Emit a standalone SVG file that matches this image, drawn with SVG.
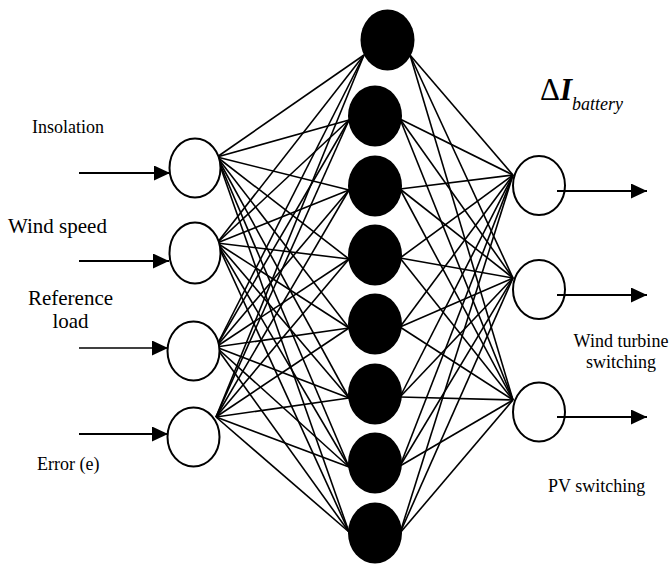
<svg xmlns="http://www.w3.org/2000/svg" width="672" height="565" viewBox="0 0 672 565">
<defs>
<marker id="ah" markerUnits="userSpaceOnUse" markerWidth="16" markerHeight="15" refX="16" refY="7.5" orient="auto">
<path d="M0,0 L16,7.5 L0,15 z" fill="#000"/>
</marker>
</defs>
<rect width="672" height="565" fill="#fff"/>
<g id="connectors" stroke="#000" stroke-width="1.6">
<line x1="217" y1="157" x2="364" y2="55"/><line x1="217" y1="157" x2="349" y2="120"/><line x1="217" y1="157" x2="349" y2="190"/><line x1="217" y1="157" x2="349" y2="259"/><line x1="217" y1="157" x2="349" y2="328"/><line x1="217" y1="157" x2="349" y2="398"/><line x1="217" y1="157" x2="349" y2="467"/><line x1="217" y1="157" x2="349" y2="532"/>
<line x1="217" y1="243" x2="364" y2="55"/><line x1="217" y1="243" x2="349" y2="120"/><line x1="217" y1="243" x2="349" y2="190"/><line x1="217" y1="243" x2="349" y2="259"/><line x1="217" y1="243" x2="349" y2="328"/><line x1="217" y1="243" x2="349" y2="398"/><line x1="217" y1="243" x2="349" y2="467"/><line x1="217" y1="243" x2="349" y2="532"/>
<line x1="216" y1="347" x2="364" y2="55"/><line x1="216" y1="347" x2="349" y2="120"/><line x1="216" y1="347" x2="349" y2="190"/><line x1="216" y1="347" x2="349" y2="259"/><line x1="216" y1="347" x2="349" y2="328"/><line x1="216" y1="347" x2="349" y2="398"/><line x1="216" y1="347" x2="349" y2="467"/><line x1="216" y1="347" x2="349" y2="532"/>
<line x1="216" y1="417" x2="364" y2="55"/><line x1="216" y1="417" x2="349" y2="120"/><line x1="216" y1="417" x2="349" y2="190"/><line x1="216" y1="417" x2="349" y2="259"/><line x1="216" y1="417" x2="349" y2="328"/><line x1="216" y1="417" x2="349" y2="398"/><line x1="216" y1="417" x2="349" y2="467"/><line x1="216" y1="417" x2="349" y2="532"/>
<line x1="410" y1="55" x2="513" y2="175"/><line x1="410" y1="55" x2="513" y2="278"/><line x1="410" y1="55" x2="513" y2="400"/>
<line x1="400" y1="119" x2="513" y2="175"/><line x1="400" y1="119" x2="513" y2="278"/><line x1="400" y1="119" x2="513" y2="400"/>
<line x1="400" y1="189" x2="513" y2="175"/><line x1="400" y1="189" x2="513" y2="278"/><line x1="400" y1="189" x2="513" y2="400"/>
<line x1="400" y1="258" x2="513" y2="175"/><line x1="400" y1="258" x2="513" y2="278"/><line x1="400" y1="258" x2="513" y2="400"/>
<line x1="400" y1="327" x2="513" y2="175"/><line x1="400" y1="327" x2="513" y2="278"/><line x1="400" y1="327" x2="513" y2="400"/>
<line x1="400" y1="397" x2="513" y2="175"/><line x1="400" y1="397" x2="513" y2="278"/><line x1="400" y1="397" x2="513" y2="400"/>
<line x1="400" y1="466" x2="513" y2="175"/><line x1="400" y1="466" x2="513" y2="278"/><line x1="400" y1="466" x2="513" y2="400"/>
<line x1="400" y1="533" x2="513" y2="175"/><line x1="400" y1="533" x2="513" y2="278"/><line x1="400" y1="533" x2="513" y2="400"/>
</g>
<g font-family="Liberation Serif" fill="#000">
<g id="in1"><text x="32" y="133" font-size="18" font-family="Liberation Serif">Insolation</text><line stroke="#000" stroke-width="2" x1="79" y1="173" x2="170" y2="173" marker-end="url(#ah)"/><ellipse fill="#fff" stroke="#000" stroke-width="2" cx="195" cy="168" rx="25.5" ry="29.5"/></g>
<g id="in2"><text x="8" y="233" font-size="21" font-family="Liberation Serif">Wind speed</text><line stroke="#000" stroke-width="2" x1="79" y1="261" x2="169" y2="261" marker-end="url(#ah)"/><ellipse fill="#fff" stroke="#000" stroke-width="2" cx="195" cy="253" rx="25.5" ry="30.5"/></g>
<g id="in3"><text x="70.5" y="305" font-size="21" font-family="Liberation Serif" text-anchor="middle">Reference</text><text x="70.5" y="328" font-size="21" font-family="Liberation Serif" text-anchor="middle">load</text><line stroke="#000" stroke-width="1.3" x1="79" y1="348" x2="168" y2="348" marker-end="url(#ah)"/><ellipse fill="#fff" stroke="#000" stroke-width="2" cx="193.5" cy="351" rx="26" ry="29.5"/></g>
<g id="in4"><text x="37" y="470" font-size="18" font-family="Liberation Serif">Error (e)</text><line stroke="#000" stroke-width="2" x1="79" y1="434" x2="168" y2="434" marker-end="url(#ah)"/><ellipse fill="#fff" stroke="#000" stroke-width="2" cx="193.5" cy="437" rx="26" ry="29.5"/></g>
<g id="h1"><ellipse cx="387.5" cy="40" rx="27" ry="30.5"/></g>
<g id="h2"><ellipse cx="375" cy="116" rx="27" ry="30.5"/></g>
<g id="h3"><ellipse cx="375" cy="186" rx="27" ry="30.5"/></g>
<g id="h4"><ellipse cx="375" cy="255" rx="27" ry="30.5"/></g>
<g id="h5"><ellipse cx="375" cy="324" rx="27" ry="30.5"/></g>
<g id="h6"><ellipse cx="375" cy="394" rx="27" ry="30.5"/></g>
<g id="h7"><ellipse cx="375" cy="463" rx="27" ry="30.5"/></g>
<g id="h8"><ellipse cx="375" cy="533" rx="27" ry="30.5"/></g>
<g id="out1"><ellipse fill="#fff" stroke="#000" stroke-width="2" cx="539" cy="185.5" rx="26" ry="29.5"/><line stroke="#000" stroke-width="2" x1="557" y1="191" x2="647" y2="191" marker-end="url(#ah)"/><text x="540" y="100" font-size="31" font-family="Liberation Serif">&#916;<tspan font-style="italic" font-weight="bold">I</tspan><tspan font-size="18" font-style="italic" dy="10">battery</tspan></text></g>
<g id="out2"><ellipse fill="#fff" stroke="#000" stroke-width="2" cx="539" cy="289.5" rx="26" ry="29.5"/><line stroke="#000" stroke-width="2" x1="557" y1="295" x2="647" y2="295" marker-end="url(#ah)"/><text x="621" y="347" font-size="18" font-family="Liberation Serif" text-anchor="middle">Wind turbine</text><text x="621" y="368" font-size="18" font-family="Liberation Serif" text-anchor="middle">switching</text></g>
<g id="out3"><ellipse fill="#fff" stroke="#000" stroke-width="2" cx="539" cy="412" rx="26" ry="29.5"/><line stroke="#000" stroke-width="2" x1="557" y1="417" x2="647" y2="417" marker-end="url(#ah)"/><text x="548" y="492" font-size="18" font-family="Liberation Serif">PV switching</text></g>
</g>
</svg>
